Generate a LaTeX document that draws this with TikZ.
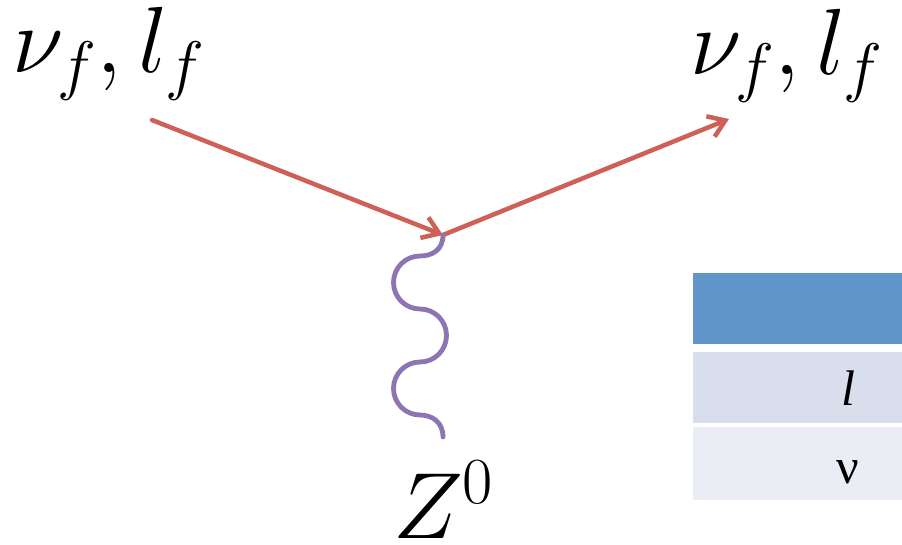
\documentclass[tikz,border=0pt]{standalone}
\usepackage{fix-cm}
\usepackage{fontspec}
\newfontfamily\tabfont{Liberation Serif}
\usetikzlibrary{arrows.meta}
\definecolor{fermcol}{RGB}{205,97,87}
\definecolor{bosoncol}{RGB}{141,117,178}
\definecolor{hdrcol}{RGB}{97,150,202}
\definecolor{rowacol}{RGB}{217,222,236}
\definecolor{rowbcol}{RGB}{234,237,244}
\tikzset{
  fermion/.style={draw=fermcol, line width=4.5pt, line cap=round,
    -{Straight Barb[length=16pt,width=22pt]}},
  boson/.style={draw=bosoncol, line width=4.8pt, line cap=round},
  biglabel/.style={inner sep=0pt, anchor=base west, font=\fontsize{94}{94}\selectfont},
  cellbox/.style={inner sep=0pt, minimum width=209pt, minimum height=71pt, anchor=north west},
  celltext/.style={inner sep=0pt, anchor=base, font=\tabfont\fontsize{50}{50}\selectfont}
}
\begin{document}
\begin{tikzpicture}[x=1pt,y=-1pt]
\useasboundingbox (0,0) rectangle (902,545);
% table
\node[cellbox, fill=hdrcol] (hdr) at (693,273) {};
\node[cellbox, fill=rowacol] (rowa) at (693,352) {};
\node[cellbox, fill=rowbcol, minimum height=73pt] (rowb) at (693,427) {};
\node[celltext] (tl) at (848,405) {\itshape l};
\node[celltext] (tnu) at (848,483) {ν};
% vertex and ends
\coordinate (a) at (152,120);
\coordinate (v) at (443,235);
\coordinate (b) at (729,119);
\coordinate (z) at (443,437);
\draw[fermion] (a) -- (v);
\draw[fermion] (v) -- (b);
\draw[boson] (v) .. controls (443,250) and (432,256) .. (420,256)
  arc[start angle=270, end angle=90, radius=26.5]
  arc[start angle=-90, end angle=90, radius=26.5]
  arc[start angle=270, end angle=90, radius=26.5]
  .. controls (432,415) and (443,422) .. (z);
% labels
\node[biglabel] (lab1) at (12,73) {$\nu_f, l_f$};
\node[biglabel] (lab2) at (690,75) {$\nu_f, l_f$};
\node[biglabel] (labz) at (393,538) {$Z^0$};
\end{tikzpicture}
\end{document}
